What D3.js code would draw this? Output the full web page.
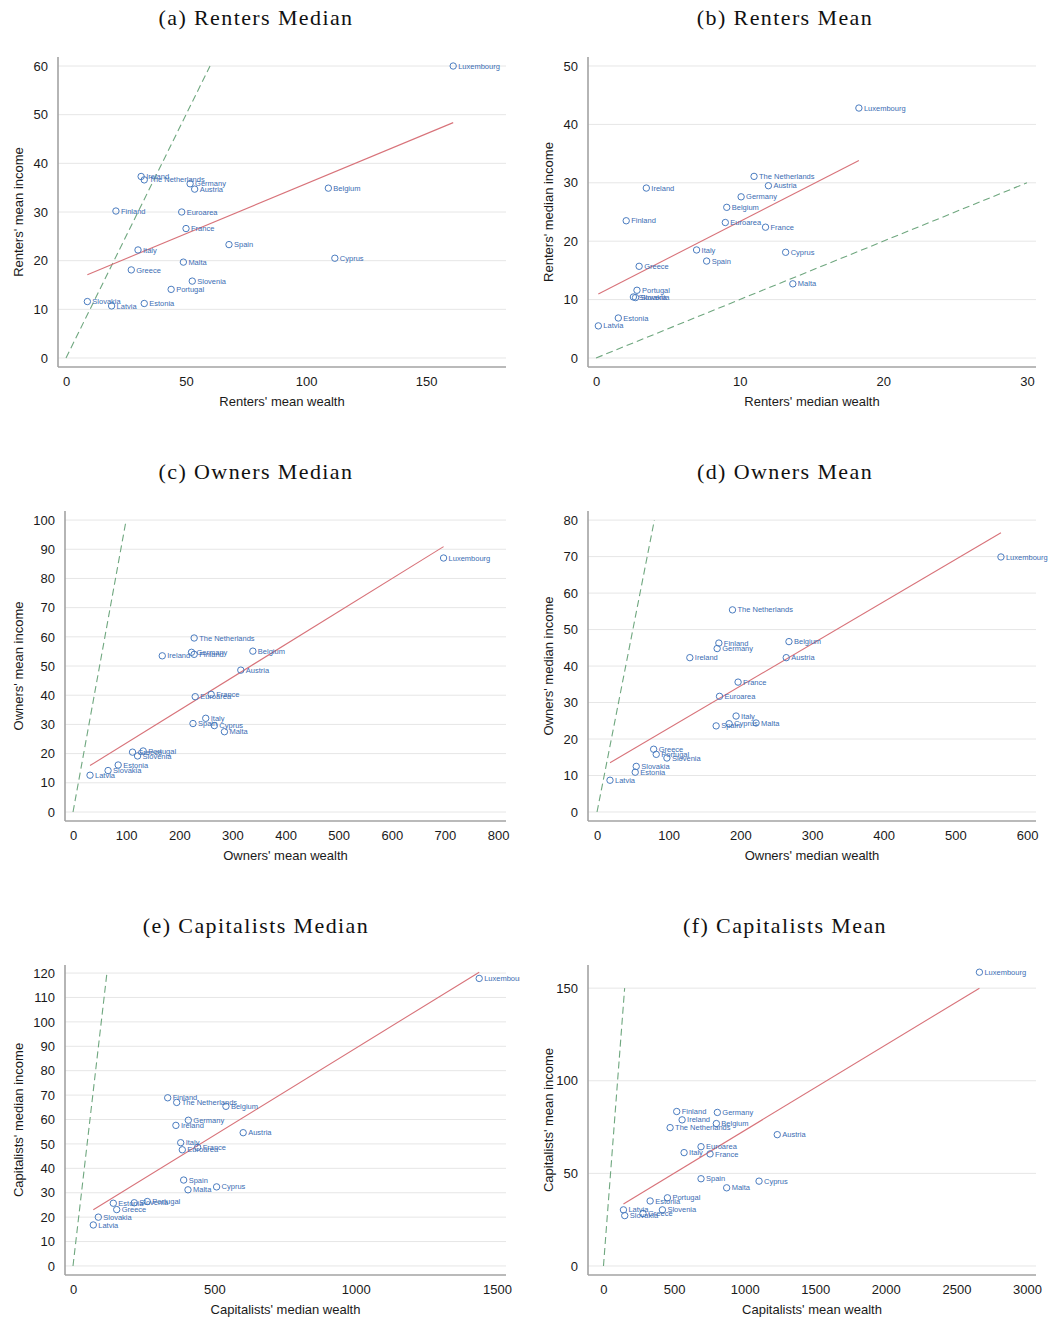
<!DOCTYPE html>
<html>
<head>
<meta charset="utf-8">
<script src="https://cdn.jsdelivr.net/npm/d3@7"></script>
<style>
body{margin:0;background:#fff;}
</style>
</head>
<body>
<div id="chart"></div>
<script>
(function(){

const countries = ["Luxembourg","Ireland","The Netherlands","Germany","Austria","Belgium","Finland","Euroarea","France","Spain","Italy","Cyprus","Malta","Greece","Slovenia","Portugal","Slovakia","Latvia","Estonia"];

// (a) renters, mean
const renterMeanWealth   = [161.3,31.3,32.6,51.7,53.6,109.3,20.8,48.2,50.0,67.9,30.0,112.0,48.9,27.2,52.6,43.8,8.9,19.0,32.6];
const renterMeanIncome   = [60.0,37.3,36.6,35.8,34.7,34.9,30.2,30.0,26.6,23.3,22.2,20.5,19.7,18.1,15.8,14.1,11.6,10.7,11.2];
// (b) renters, median
const renterMedWealth    = [18.3,3.5,11.0,10.1,12.0,9.1,2.1,9.0,11.8,7.7,7.0,13.2,13.7,3.0,2.75,2.85,2.6,0.16,1.55];
const renterMedIncome    = [42.8,29.1,31.1,27.6,29.5,25.8,23.5,23.2,22.4,16.6,18.5,18.1,12.7,15.7,10.35,11.6,10.45,5.5,6.85];
// (c) owners, mean
const ownerMeanWealth    = [697.5,168,228,223,315.8,338.5,228,230,260,225.8,249.8,266,285,112,121.5,132,66,32,85];
const ownerMeanIncome    = [87.0,53.5,59.6,54.7,48.6,55.1,54.0,39.5,40.3,30.3,32.1,29.6,27.5,20.5,19.2,20.9,14.2,12.6,16.1];
// (d) owners, median
const ownerMedWealth     = [563.6,129.5,189,167.6,264,267.8,170,170.9,196.8,166.2,194,184.3,221.9,79,97.5,82.6,54.7,18.1,53.3];
const ownerMedIncome     = [69.9,42.3,55.4,44.8,42.3,46.7,46.3,31.7,35.6,23.6,26.3,24.2,24.4,17.2,14.8,15.8,12.5,8.7,10.9];
// (e) capitalists, median
const capMedWealth       = [1437,364,366.8,408,602,541,335,386.7,441,391.5,381,508,406.8,154.6,216.8,262.8,89.6,71.8,142.6];
const capMedIncome       = [117.8,57.6,67.0,59.7,54.6,65.4,68.9,47.6,48.6,35.2,50.5,32.4,31.2,23.1,25.9,26.4,20.0,16.8,25.7];
// (f) capitalists, mean
const capMeanWealth      = [2663,557,472,806.8,1231,799.7,518.8,691,755,691,571,1102,872.6,280,417.5,453,150.7,141.5,330.5];
const capMeanIncome      = [158.6,78.9,74.7,82.9,70.9,76.9,83.4,64.4,60.5,47.1,61.2,45.8,42.2,28.3,30.3,36.8,27.2,30.3,35.1];

const titles  = ["(a) Renters Median","(b) Renters Mean","(c) Owners Median","(d) Owners Mean","(e) Capitalists Median","(f) Capitalists Mean"];
const xLabels = ["Renters' mean wealth","Renters' median wealth","Owners' mean wealth","Owners' median wealth","Capitalists' median wealth","Capitalists' mean wealth"];
const yLabels = ["Renters' mean income","Renters' median income","Owners' mean income","Owners' median income","Capitalists' median income","Capitalists' mean income"];

const xTicks = [
  [0,50,100,150],
  [0,10,20,30],
  [0,100,200,300,400,500,600,700,800],
  [0,100,200,300,400,500,600],
  [0,500,1000,1500],
  [0,500,1000,1500,2000,2500,3000]
];
const yTicks = [
  [0,10,20,30,40,50,60],
  [0,10,20,30,40,50],
  [0,10,20,30,40,50,60,70,80,90,100],
  [0,10,20,30,40,50,60,70,80],
  [0,10,20,30,40,50,60,70,80,90,100,110,120],
  [0,50,100,150]
];
const xDomains = [[-3.33,183.3],[-0.56,30.63],[-15.1,815],[-12.6,612.5],[-28.3,1531.8],[-109.6,3063.8]];
const yDomains = [[-1.85,61.85],[-1.54,51.54],[-3.08,103.1],[-2.47,82.5],[-3.7,123.3],[-4.87,162.5]];

// fitted lines: intercept, slope
const fitIntercepts = [15.3,10.76,12.3,11.4,17.9,26.96];
const fitSlopes     = [0.205,1.26,0.1127,0.1156,0.0713,0.0462];

const xSeries = [renterMeanWealth,renterMedWealth,ownerMeanWealth,ownerMedWealth,capMedWealth,capMeanWealth];
const ySeries = [renterMeanIncome,renterMedIncome,ownerMeanIncome,ownerMedIncome,capMedIncome,capMeanIncome];

const W = 1054, H = 1321;
const rowTop = [57,511,965];
const plotH = 310;
const colLeft = [[58,65,65],[588,588,588]];
const colRight = [506,1036];
const titleX = [256,785];
const clipW = [520,1054];

const blue = "#4a7cc0";
const labelBlue = "#3b6db3";
const red = "#d8737a";
const green = "#6fa77f";

const svg = d3.select("#chart")
  .append("svg")
  .attr("width",W)
  .attr("height",H)
  .style("background","#fff");

const defs = svg.append("defs");
[0,1].forEach(c=>{
  defs.append("clipPath").attr("id","clip"+c)
    .append("rect").attr("x",c===0?0:527).attr("y",0).attr("width",c===0?clipW[0]:clipW[1]-527).attr("height",H);
});

titles.forEach((title,i)=>{
  const col = i%2, row = Math.floor(i/2);
  const left = colLeft[col][row], right = colRight[col];
  const top = rowTop[row], bottom = top+plotH;

  const x = d3.scaleLinear().domain(xDomains[i]).range([left,right]);
  const y = d3.scaleLinear().domain(yDomains[i]).range([bottom,top]);

  const g = svg.append("g");

  // title
  g.append("text")
    .attr("x",titleX[col])
    .attr("y",rowTop[row]-32)
    .attr("text-anchor","middle")
    .style("font-family","'Liberation Serif','DejaVu Serif',serif")
    .style("font-size","22px")
    .style("letter-spacing","1.4px")
    .attr("fill","#111")
    .text(title);

  // gridlines
  g.selectAll("line.grid")
    .data(yTicks[i])
    .enter()
    .append("line")
    .attr("x1",left).attr("x2",right)
    .attr("y1",d=>y(d)).attr("y2",d=>y(d))
    .attr("stroke","#e6e6e6")
    .attr("stroke-width",1);

  // axes
  const yAxis = d3.axisLeft(y).tickValues(yTicks[i]).tickSize(0).tickPadding(10).tickFormat(d3.format("d"));
  const xAxis = d3.axisBottom(x).tickValues(xTicks[i]).tickSize(0).tickPadding(10).tickFormat(d3.format("d"));

  const ya = g.append("g").attr("transform",`translate(${left},0)`).call(yAxis);
  const xa = g.append("g").attr("transform",`translate(0,${bottom})`).call(xAxis);
  ya.select(".domain").attr("d",`M0,${top}V${bottom}`);
  xa.select(".domain").attr("d",`M${left},0H${right}`);
  [ya,xa].forEach(a=>{
    a.select(".domain").attr("stroke","#a3a3a3").attr("stroke-width",1.6);
    a.selectAll("text")
      .style("font-family","'Liberation Sans',Arial,sans-serif")
      .style("font-size","13px")
      .attr("fill","#1a1a1a");
  });

  // axis titles
  g.append("text")
    .attr("x",(left+right)/2)
    .attr("y",bottom+39)
    .attr("text-anchor","middle")
    .style("font-family","'Liberation Sans',Arial,sans-serif")
    .style("font-size","13px")
    .attr("fill","#1a1a1a")
    .text(xLabels[i]);

  const ytx = col===0 ? 23 : 553;
  g.append("text")
    .attr("transform",`translate(${ytx},${(top+bottom)/2}) rotate(-90)`)
    .attr("text-anchor","middle")
    .style("font-family","'Liberation Sans',Arial,sans-serif")
    .style("font-size","13px")
    .attr("fill","#1a1a1a")
    .text(yLabels[i]);

  const marks = g.append("g").attr("clip-path",`url(#clip${col})`);

  // 45 degree line
  const diagEnd = Math.min(d3.max(xTicks[i]),d3.max(yTicks[i]));
  marks.append("line")
    .attr("x1",x(0)).attr("y1",y(0))
    .attr("x2",x(diagEnd)).attr("y2",y(diagEnd))
    .attr("stroke",green)
    .attr("stroke-width",1.1)
    .attr("stroke-dasharray","7,4");

  // fitted line
  const xs = xSeries[i];
  const ext = d3.extent(xs);
  const fy = v => fitIntercepts[i] + fitSlopes[i]*v;
  marks.append("line")
    .attr("x1",x(ext[0])).attr("y1",y(fy(ext[0])))
    .attr("x2",x(ext[1])).attr("y2",y(fy(ext[1])))
    .attr("stroke",red)
    .attr("stroke-width",1.1);

  const pts = countries.map((c,k)=>({name:c,x:xs[k],y:ySeries[i][k]}));

  // points
  marks.selectAll("circle")
    .data(pts)
    .enter()
    .append("circle")
    .attr("cx",d=>x(d.x))
    .attr("cy",d=>y(d.y))
    .attr("r",3.2)
    .attr("fill","none")
    .attr("stroke",blue)
    .attr("stroke-width",1);

  // marker labels
  marks.selectAll("text.lab")
    .data(pts)
    .enter()
    .append("text")
    .attr("class","lab")
    .attr("x",d=>x(d.x)+5)
    .attr("y",d=>y(d.y)+2.6)
    .style("font-family","'Liberation Sans',Arial,sans-serif")
    .style("font-size","7.5px")
    .attr("fill",labelBlue)
    .text(d=>d.name);
});

})();
</script>
</body>
</html>
